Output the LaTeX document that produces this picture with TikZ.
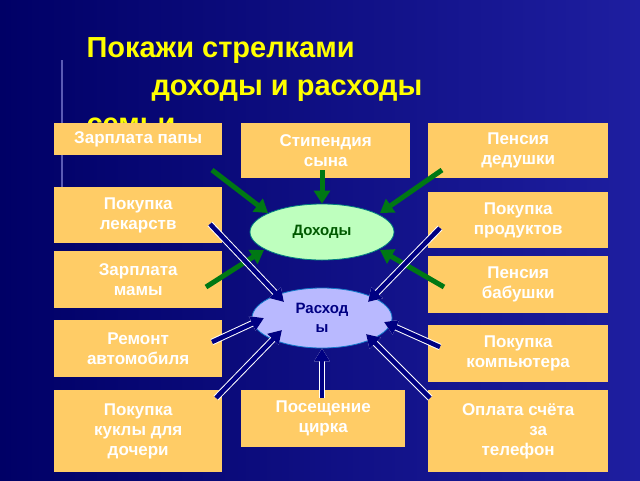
\documentclass[tikz,border=0pt]{standalone}
\usepackage{fontspec}
\setmainfont{Liberation Sans}
\usetikzlibrary{arrows.meta,shapes.geometric}
\definecolor{bgdark}{RGB}{0,0,102}
\definecolor{bglight}{RGB}{30,30,160}
\definecolor{boxfill}{RGB}{255,204,102}
\definecolor{incfill}{RGB}{190,255,190}
\definecolor{expfill}{RGB}{185,185,255}
\definecolor{incarr}{RGB}{0,120,20}
\definecolor{exparr}{RGB}{0,0,130}
\definecolor{titley}{RGB}{255,255,0}
\tikzset{
	card/.style={fill=boxfill, text=white, font=\bfseries\fontsize{17}{20}\selectfont, align=center, inner sep=0pt, anchor=north west},
	inc/.style={-{Triangle[length=13pt,width=16pt]}, line width=5pt, draw=incarr},
	exp/.style={-{Triangle[length=13pt,width=15pt]}, line width=4.5pt, draw=exparr, preaction={draw=white, line width=6.5pt}}
}
\begin{document}
\begin{tikzpicture}[x=1pt,y=-1pt]
	\useasboundingbox (0,0) rectangle (640,480);
	\shade[left color=bgdark, right color=bglight] (0,0) rectangle (640,480);
	\fill[white!70!blue, opacity=.5] (61,60) rectangle (63,200);
	% title
	\node[anchor=base west, font=\bfseries\fontsize{29}{32}\selectfont, text=titley] (t1) at (83,57) {Покажи стрелками};
	\node[anchor=base west, font=\bfseries\fontsize{29}{32}\selectfont, text=titley] (t2) at (148,95) {доходы и расходы};
	\node[anchor=base west, font=\bfseries\fontsize{29}{32}\selectfont, text=titley] (t3) at (83,133) {семьи};
	% cards
	\node[card, minimum width=168pt, minimum height=32pt] (papa) at (54,123) {Зарплата папы};
	\node[card, minimum width=169pt, minimum height=55pt] (syn) at (241,123) {Стипендия\\сына};
	\node[card, minimum width=180pt, minimum height=55pt] (ded) at (428,123) {Пенсия\\дедушки};
	\node[card, minimum width=168pt, minimum height=56pt] (lek) at (54,187) {Покупка\\лекарств};
	\node[card, minimum width=180pt, minimum height=56pt] (prod) at (428,192) {Покупка\\продуктов};
	\node[card, minimum width=168pt, minimum height=57pt] (mama) at (54,251) {Зарплата\\мамы};
	\node[card, minimum width=180pt, minimum height=57pt] (bab) at (428,256) {Пенсия\\бабушки};
	\node[card, minimum width=168pt, minimum height=57pt] (avto) at (54,320) {Ремонт\\автомобиля};
	\node[card, minimum width=180pt, minimum height=57pt] (comp) at (428,325) {Покупка\\компьютера};
	\node[card, minimum width=168pt, minimum height=82pt] (kukla) at (54,390) {Покупка\\куклы для\\дочери};
	\node[card, minimum width=164pt, minimum height=57pt] (cirk) at (241,390) {Посещение\\цирка};
	\node[card, minimum width=180pt, minimum height=82pt] (tel) at (428,390) {Оплата счёта\\\hspace*{40pt}за\\телефон};
	% centre
	\node[ellipse, fill=incfill, draw=teal, thick, minimum width=144pt, minimum height=56pt, text=green!35!black, font=\bfseries\fontsize{15}{18}\selectfont] (dohod) at (322,232) {Доходы};
	\node[ellipse, fill=expfill, draw=cyan!60!blue, thick, minimum width=140pt, minimum height=60pt, text=exparr, align=center, font=\bfseries\fontsize{15}{19}\selectfont] (rashod) at (322,318) {Расход\\ы};
	% arrow starts
	\coordinate (s1) at (212,170);
	\coordinate (s2) at (322,170);
	\coordinate (s3) at (442,170);
	\coordinate (s4) at (206,287);
	\coordinate (s5) at (444,287);
	\coordinate (e1) at (210,224);
	\coordinate (e2) at (440,228);
	\coordinate (e3) at (212,342);
	\coordinate (e4) at (440,347);
	\coordinate (e5) at (216,398);
	\coordinate (e6) at (322,398);
	\coordinate (e7) at (430,398);
	% incomes
	\draw[inc] (s1) -- (268,213);
	\draw[inc] (s2) -- (dohod.north);
	\draw[inc] (s3) -- (380,213);
	\draw[inc] (s4) -- (264,250);
	\draw[inc] (s5) -- (380,250);
	% expenses
	\draw[exp] (e1) -- (284,302);
	\draw[exp] (e2) -- (368,302);
	\draw[exp] (e3) -- (264,318);
	\draw[exp] (e4) -- (384,322);
	\draw[exp] (e5) -- (282,330);
	\draw[exp] (e6) -- (rashod.south);
	\draw[exp] (e7) -- (366,334);
\end{tikzpicture}
\end{document}
